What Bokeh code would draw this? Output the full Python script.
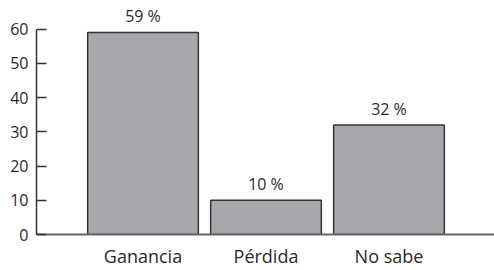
from bokeh.plotting import figure
from bokeh.models import ColumnDataSource, Range1d, FixedTicker
from bokeh.core.properties import value
from bokeh.embed import file_html
from bokeh.resources import INLINE

categories = ["Ganancia", "Pérdida", "No sabe"]
positions = [1, 2, 3]
values = [59, 10, 32]
labels = ["59 %", "10 %", "32 %"]
y_ticks = [0, 10, 20, 30, 40, 50, 60]

FONT = "Open Sans"

src = ColumnDataSource(dict(x=positions, top=values, label=labels))

p = figure(width=494, height=270, output_backend="svg", toolbar_location=None,
           x_range=Range1d(0.134, 3.858), y_range=Range1d(0, 66),
           min_border_left=36, min_border_right=0, min_border_top=8, min_border_bottom=31)
p.outline_line_color = None
p.xgrid.grid_line_color = None
p.ygrid.grid_line_color = None

p.vbar(x="x", top="top", bottom=0, width=0.9, source=src,
       fill_color="#a7a8ab", line_color="#333333", line_width=1.5)

p.text(x="x", y="top", text="label", source=src, text_align="center",
       text_baseline="bottom", y_offset=-5, text_font=value(FONT),
       text_font_size="16px", text_color="#2a2a2a")

ya = p.yaxis[0]
ya.ticker = FixedTicker(ticks=y_ticks)
ya.bounds = (0, 60)
ya.major_tick_in = 10
ya.major_tick_out = 0
ya.minor_tick_line_color = None
ya.axis_line_color = "#333333"
ya.axis_line_width = 1.5
ya.major_tick_line_color = "#333333"
ya.major_tick_line_width = 1.5
ya.major_label_standoff = 8
ya.major_label_text_font = FONT
ya.major_label_text_font_size = "16px"
ya.major_label_text_color = "#2a2a2a"

xa = p.xaxis[0]
xa.ticker = FixedTicker(ticks=positions)
xa.major_label_overrides = {pos: c for pos, c in zip(positions, categories)}
xa.major_tick_in = 0
xa.major_tick_out = 0
xa.minor_tick_line_color = None
xa.axis_line_color = "#666666"
xa.axis_line_width = 2
xa.major_label_standoff = 9
xa.major_label_text_font = FONT
xa.major_label_text_font_size = "18px"
xa.major_label_text_color = "#2a2a2a"

open("out.html", "w").write(file_html(p, INLINE))
